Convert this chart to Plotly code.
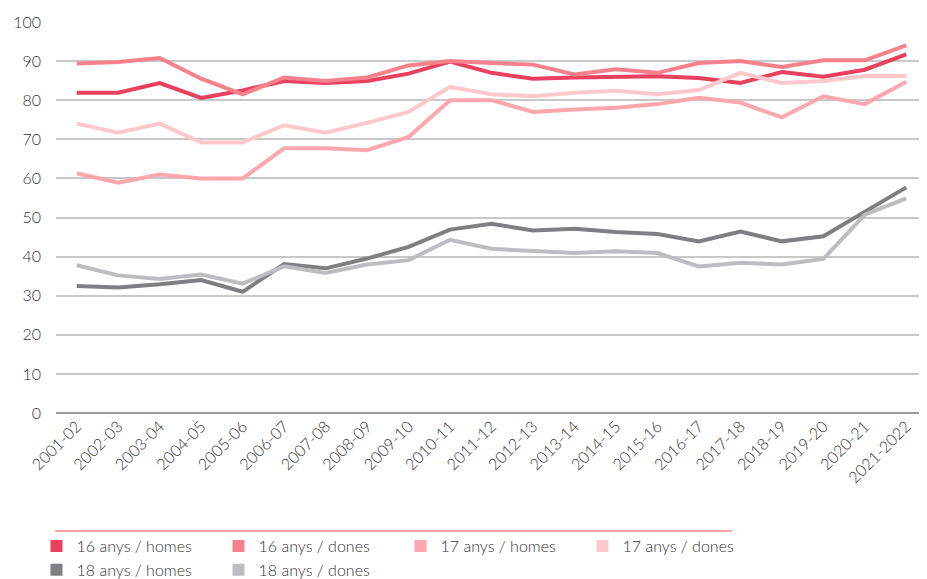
import plotly.graph_objects as go

years = ["2001-02", "2002-03", "2003-04", "2004-05", "2005-06", "2006-07", "2007-08",
         "2008-09", "2009-10", "2010-11", "2011-12", "2012-13", "2013-14", "2014-15",
         "2015-16", "2016-17", "2017-18", "2018-19", "2019-20", "2020-21", "2021-2022"]

h16 = [81.9, 81.9, 84.4, 80.6, 82.5, 84.9, 84.4, 84.9, 86.8, 89.9, 87.0,
       85.5, 85.8, 86.0, 86.1, 85.7, 84.4, 87.2, 86.0, 87.8, 91.7]
d16 = [89.4, 89.8, 90.8, 85.5, 81.5, 85.8, 84.9, 85.8, 88.9, 90.0, 89.5,
       89.1, 86.6, 87.9, 87.0, 89.5, 90.0, 88.5, 90.2, 90.2, 94.0]
h17 = [61.3, 58.9, 61.0, 60.0, 60.0, 67.7, 67.7, 67.2, 70.6, 80.0, 80.0,
       77.0, 77.6, 78.1, 79.0, 80.6, 79.4, 75.6, 81.0, 79.0, 84.7]
d17 = [74.0, 71.7, 74.0, 69.2, 69.2, 73.6, 71.7, 74.2, 77.0, 83.4, 81.5,
       81.0, 81.9, 82.4, 81.5, 82.6, 87.0, 84.4, 84.9, 86.2, 86.2]
h18 = [32.5, 32.1, 32.9, 34.0, 31.0, 38.1, 37.0, 39.5, 42.5, 46.9, 48.4,
       46.7, 47.1, 46.3, 45.8, 43.9, 46.4, 43.9, 45.2, 51.5, 57.7]
d18 = [37.8, 35.2, 34.3, 35.4, 33.1, 37.5, 35.8, 38.0, 39.1, 44.3, 42.0,
       41.4, 40.9, 41.4, 40.9, 37.5, 38.4, 38.0, 39.4, 50.7, 54.9]

names = ["16 anys / homes", "16 anys / dones", "17 anys / homes",
         "17 anys / dones", "18 anys / homes", "18 anys / dones"]
colors = ["#e8405e", "#f6808b", "#fca6ad", "#fdc8cc", "#7f7f83", "#bdbdc1"]
series = [h16, d16, h17, d17, h18, d18]

fig = go.Figure()
for name, col, vals in zip(names, colors, series):
    fig.add_trace(go.Scatter(x=years, y=vals, mode="lines", name=name,
                             line=dict(color=col, width=4), showlegend=False))
for name, col in zip(names, colors):
    fig.add_trace(go.Scatter(x=[None], y=[None], mode="markers", name=name,
                             marker=dict(color=col, symbol="square", size=12),
                             showlegend=True))

fnt = "Lato, Open Sans, sans-serif"
fig.update_layout(
    width=919, height=571,
    margin=dict(l=48, r=0, t=14, b=166),
    paper_bgcolor="white", plot_bgcolor="white",
    font=dict(family=fnt, size=15, color="#333333", weight=300),
    xaxis=dict(type="category", tickangle=-45, showgrid=False, ticks="",
               tickfont=dict(family=fnt, size=16, color="#333333", weight=300),
               showline=False, automargin=False, range=[-0.5, 20.5]),
    yaxis=dict(range=[0, 100], dtick=10, showgrid=True, gridcolor="#c8c8c8",
               gridwidth=1.5, zeroline=True, zerolinecolor="#9a9a9a",
               zerolinewidth=2, automargin=False,
               tickfont=dict(family=fnt, size=16, color="#333333", weight=300),
               ticks="", ticklabelstandoff=14),
    legend=dict(orientation="h", xref="container", yref="container",
                x=0.031, y=0.0876, xanchor="left", yanchor="top",
                bgcolor="rgba(0,0,0,0)",
                entrywidth=137, tracegroupgap=0, itemsizing="constant",
                font=dict(family=fnt, size=16, color="#333333", weight=300)),
    shapes=[dict(type="line", xref="paper", yref="paper", x0=-0.001, x1=0.776,
                 y0=-0.302, y1=-0.302, line=dict(color="#f6808b", width=1.5))],
)

fig.write_html("out.html")
